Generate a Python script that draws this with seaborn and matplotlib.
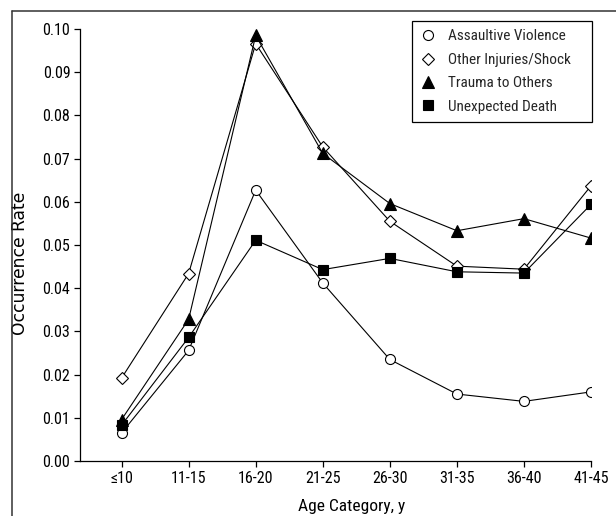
import matplotlib
matplotlib.use("Agg")
import matplotlib.pyplot as plt
from matplotlib.lines import Line2D
import seaborn as sns
import pandas as pd

categories = ["≤10", "11-15", "16-20", "21-25", "26-30", "31-35", "36-40", "41-45"]
assaultive_violence = [0.0065, 0.0256, 0.0627, 0.0412, 0.0235, 0.0155, 0.0138, 0.0160]
other_injuries_shock = [0.0192, 0.0434, 0.0966, 0.0727, 0.0555, 0.0451, 0.0444, 0.0637]
trauma_to_others = [0.0096, 0.0328, 0.0985, 0.0712, 0.0596, 0.0533, 0.0561, 0.0516]
unexpected_death = [0.0083, 0.0286, 0.0511, 0.0443, 0.0469, 0.0438, 0.0435, 0.0594]
series_names = ["Assaultive Violence", "Other Injuries/Shock", "Trauma to Others", "Unexpected Death"]
y_ticks = [0.00, 0.01, 0.02, 0.03, 0.04, 0.05, 0.06, 0.07, 0.08, 0.09, 0.10]

sns.set_theme(style="ticks")
plt.rcParams["font.family"] = ["Roboto Condensed", "Archivo Narrow", "DejaVu Sans"]

W, H = 616, 516
fig = plt.figure(figsize=(W / 100, H / 100), dpi=100)
ax = fig.add_axes([80 / W, 1 - 461 / H, (591 - 80) / W, (461 - 29) / H])

styles = [
    dict(marker="o", markerfacecolor="white", markersize=7.2),
    dict(marker="D", markerfacecolor="white", markersize=6.0),
    dict(marker="^", markerfacecolor="black", markersize=9.0),
    dict(marker="s", markerfacecolor="black", markersize=6.5),
]
values = [assaultive_violence, other_injuries_shock, trauma_to_others, unexpected_death]

for name, vals, st in zip(series_names, values, styles):
    df = pd.DataFrame({"Age": categories, "Rate": vals})
    sns.lineplot(data=df, x="Age", y="Rate", ax=ax, color="black", linewidth=0.8,
                 markeredgecolor="black", markeredgewidth=0.8, sort=False,
                 label=name, **st)

ax.set_ylim(0, 0.10)
ax.set_xlim(-0.62, 7.0)
ax.set_yticks(y_ticks)
ax.set_yticklabels([f"{v:.2f}" for v in y_ticks])
ax.set_xticks(range(len(categories)))
ax.set_xticklabels(categories)
ax.tick_params(axis="both", labelsize=11.5, length=4, width=0.9, color="black",
               labelcolor="black", direction="out", pad=3)
for s in ["top", "right"]:
    ax.spines[s].set_visible(False)
for s in ["left", "bottom"]:
    ax.spines[s].set_color("black")
    ax.spines[s].set_linewidth(0.9)

ax.set_xlabel("Age Category, y", fontsize=12.5, color="black")
ax.set_ylabel("Occurrence Rate", fontsize=12.3, color="black", family="DejaVu Sans")
ax.xaxis.set_label_coords((352 - 80) / (591 - 80), -(499 - 461) / (461 - 29))
ax.yaxis.set_label_coords(-(80 - 29) / (591 - 80), (461 - 263) / (461 - 29))

handles = []
for name, st in zip(series_names, styles):
    handles.append(Line2D([], [], linestyle="", color="black", markeredgecolor="black",
                          markeredgewidth=0.8, **st))
leg = ax.legend(handles, series_names, loc="upper left",
                bbox_to_anchor=(412 / W, 1 - 123 / H, 180 / W, 102 / H),
                bbox_transform=fig.transFigure, mode="expand",
                frameon=True, fancybox=False, shadow=False, fontsize=11,
                handlelength=1.0, handletextpad=0.8, labelspacing=0.62,
                borderpad=0.55, borderaxespad=0)
leg.get_frame().set_edgecolor("black")
leg.get_frame().set_linewidth(0.9)
leg.get_frame().set_alpha(1)

fig.add_artist(Line2D([12 / W, 12 / W], [0, 1 - 11 / H], transform=fig.transFigure,
                      color="#333333", linewidth=1.1))
fig.add_artist(Line2D([12 / W, 1], [1 - 11 / H, 1 - 11 / H], transform=fig.transFigure,
                      color="#333333", linewidth=1.1))

fig.savefig("out.png", dpi=100)
